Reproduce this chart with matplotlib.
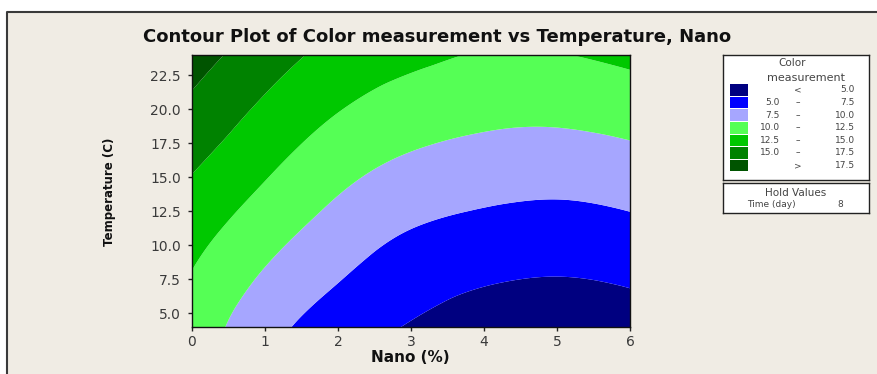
import numpy as np
import matplotlib.pyplot as plt
import matplotlib.tri as mtri
from matplotlib.patches import Rectangle
from matplotlib.lines import Line2D

# response surface readings: rows = temperature, columns = nano
nano = [0, 1, 2, 3, 4, 5, 6]
temperature = [4, 8, 12, 16, 20, 24]
color_meas = [
    [11.45, 8.42, 6.19, 4.85, 3.90, 3.44, 3.84],
    [12.45, 9.85, 7.80, 6.20, 5.40, 5.12, 5.49],
    [13.80, 11.40, 9.35, 7.85, 7.15, 6.85, 7.27],
    [15.30, 13.00, 10.95, 9.60, 8.95, 8.75, 9.17],
    [16.95, 14.55, 12.60, 11.35, 10.70, 10.60, 11.10],
    [18.50, 16.20, 14.20, 13.10, 12.33, 12.40, 13.05],
]
levels = [5.0, 7.5, 10.0, 12.5, 15.0, 17.5]
band_colors = ['#000080', '#0000ff', '#a6a6ff', '#55ff55',
               '#00c800', '#008200', '#005400']
hold_time = 8

W, H = 877, 374
fig = plt.figure(figsize=(W / 100, H / 100), dpi=100)
fig.patch.set_facecolor('white')

# grey panel, dark edge on top and left only
fig.add_artist(Rectangle((7 / W, 0), 870 / W, 362 / H,
                         transform=fig.transFigure, facecolor='#f0ece4',
                         edgecolor='none', zorder=-5))
fig.add_artist(Line2D([7 / W, 7 / W, 1], [0, 1 - 12 / H, 1 - 12 / H],
                      transform=fig.transFigure, color='#3a3a3a', lw=1.5,
                      zorder=-4))

fig.text(437 / W, 1 - 37.5 / H,
         'Contour Plot of Color measurement vs Temperature, Nano',
         ha='center', va='center', fontsize=13, fontweight='bold',
         color='#111111')

ax = fig.add_axes([192 / W, 1 - 327 / H, 438 / W, 272 / H])

# interpolate on a square-celled copy of the grid (temperature / 4),
# then map the refined mesh back to real temperature units
X, Y = np.meshgrid(nano, temperature)
Z = np.array(color_meas)
ty = 4.0
triang = mtri.Triangulation(X.ravel(), Y.ravel() / ty)
interp = mtri.CubicTriInterpolator(triang, Z.ravel(), kind='min_E')
tri_n, z_fine = mtri.UniformTriRefiner(triang).refine_field(
    Z.ravel(), triinterpolator=interp, subdiv=5)
tri_fine = mtri.Triangulation(tri_n.x, tri_n.y * ty, tri_n.triangles)

bounds = [min(z_fine.min(), 0) - 1] + levels + [z_fine.max() + 1]
ax.tricontourf(tri_fine, z_fine, levels=bounds, colors=band_colors,
               antialiased=True)

ax.set_xlim(0, 6)
ax.set_ylim(4, 24)
ax.set_xticks(range(0, 7))
ax.set_yticks(np.arange(5, 23, 2.5))
ax.set_yticklabels([f'{v:.1f}' for v in np.arange(5, 23, 2.5)])
ax.tick_params(direction='out', length=3, width=1, colors='#222222',
               labelcolor='#3a3a3a', labelsize=10)
ax.tick_params(axis='y', pad=5)
ax.tick_params(axis='x', pad=2.5)
for s in ax.spines.values():
    s.set_color('#111111')
    s.set_linewidth(1.0)

fig.text(410 / W, 1 - 358 / H, 'Nano (%)', ha='center', va='center',
         fontsize=11, fontweight='bold', color='#111111')
fig.text(109 / W, 1 - 191.5 / H, 'Temperature (C)', ha='center',
         va='center', rotation=90, fontsize=8.5, fontweight='bold',
         color='#111111')

# legend box (pixel units inside the box)
leg = fig.add_axes([723 / W, 1 - 180 / H, 146 / W, 125 / H])
leg.set_xlim(0, 146)
leg.set_ylim(125, 0)
leg.set_xticks([])
leg.set_yticks([])
leg.set_facecolor('white')
for s in leg.spines.values():
    s.set_color('#222222')
    s.set_linewidth(1.0)

txt_kw = dict(fontsize=6.5, color='#444444', va='center')
leg.text(69, 8, 'Color', ha='center', **dict(txt_kw, fontsize=7.5))
leg.text(83, 23, 'measurement', ha='center', **dict(txt_kw, fontsize=8))

row_h = 12.6
for i, c in enumerate(band_colors):
    yc = 35 + i * row_h
    leg.add_patch(Rectangle((7, yc - row_h / 2 + 0.5), 18, row_h - 1,
                            facecolor=c, edgecolor='none'))
    if i == 0:
        leg.text(75, yc, '<', ha='center', **txt_kw)
        leg.text(132, yc, f'{levels[0]:.1f}', ha='right', **txt_kw)
    elif i == len(band_colors) - 1:
        leg.text(75, yc, '>', ha='center', **txt_kw)
        leg.text(132, yc, f'{levels[-1]:.1f}', ha='right', **txt_kw)
    else:
        leg.text(57, yc, f'{levels[i - 1]:.1f}', ha='right', **txt_kw)
        leg.text(75, yc, '–', ha='center', **txt_kw)
        leg.text(132, yc, f'{levels[i]:.1f}', ha='right', **txt_kw)

# hold values box
hold = fig.add_axes([723 / W, 1 - 213 / H, 146 / W, 30 / H])
hold.set_xlim(0, 146)
hold.set_ylim(30, 0)
hold.set_xticks([])
hold.set_yticks([])
hold.set_facecolor('white')
for s in hold.spines.values():
    s.set_color('#222222')
    s.set_linewidth(1.0)
hold.text(73, 10, 'Hold Values', ha='center', **dict(txt_kw, fontsize=7.5))
hold.text(24, 22, 'Time (day)', ha='left', **txt_kw)
hold.text(117, 22, f'{hold_time}', ha='center', **txt_kw)

fig.savefig('out.png', dpi=100, facecolor=fig.get_facecolor())
